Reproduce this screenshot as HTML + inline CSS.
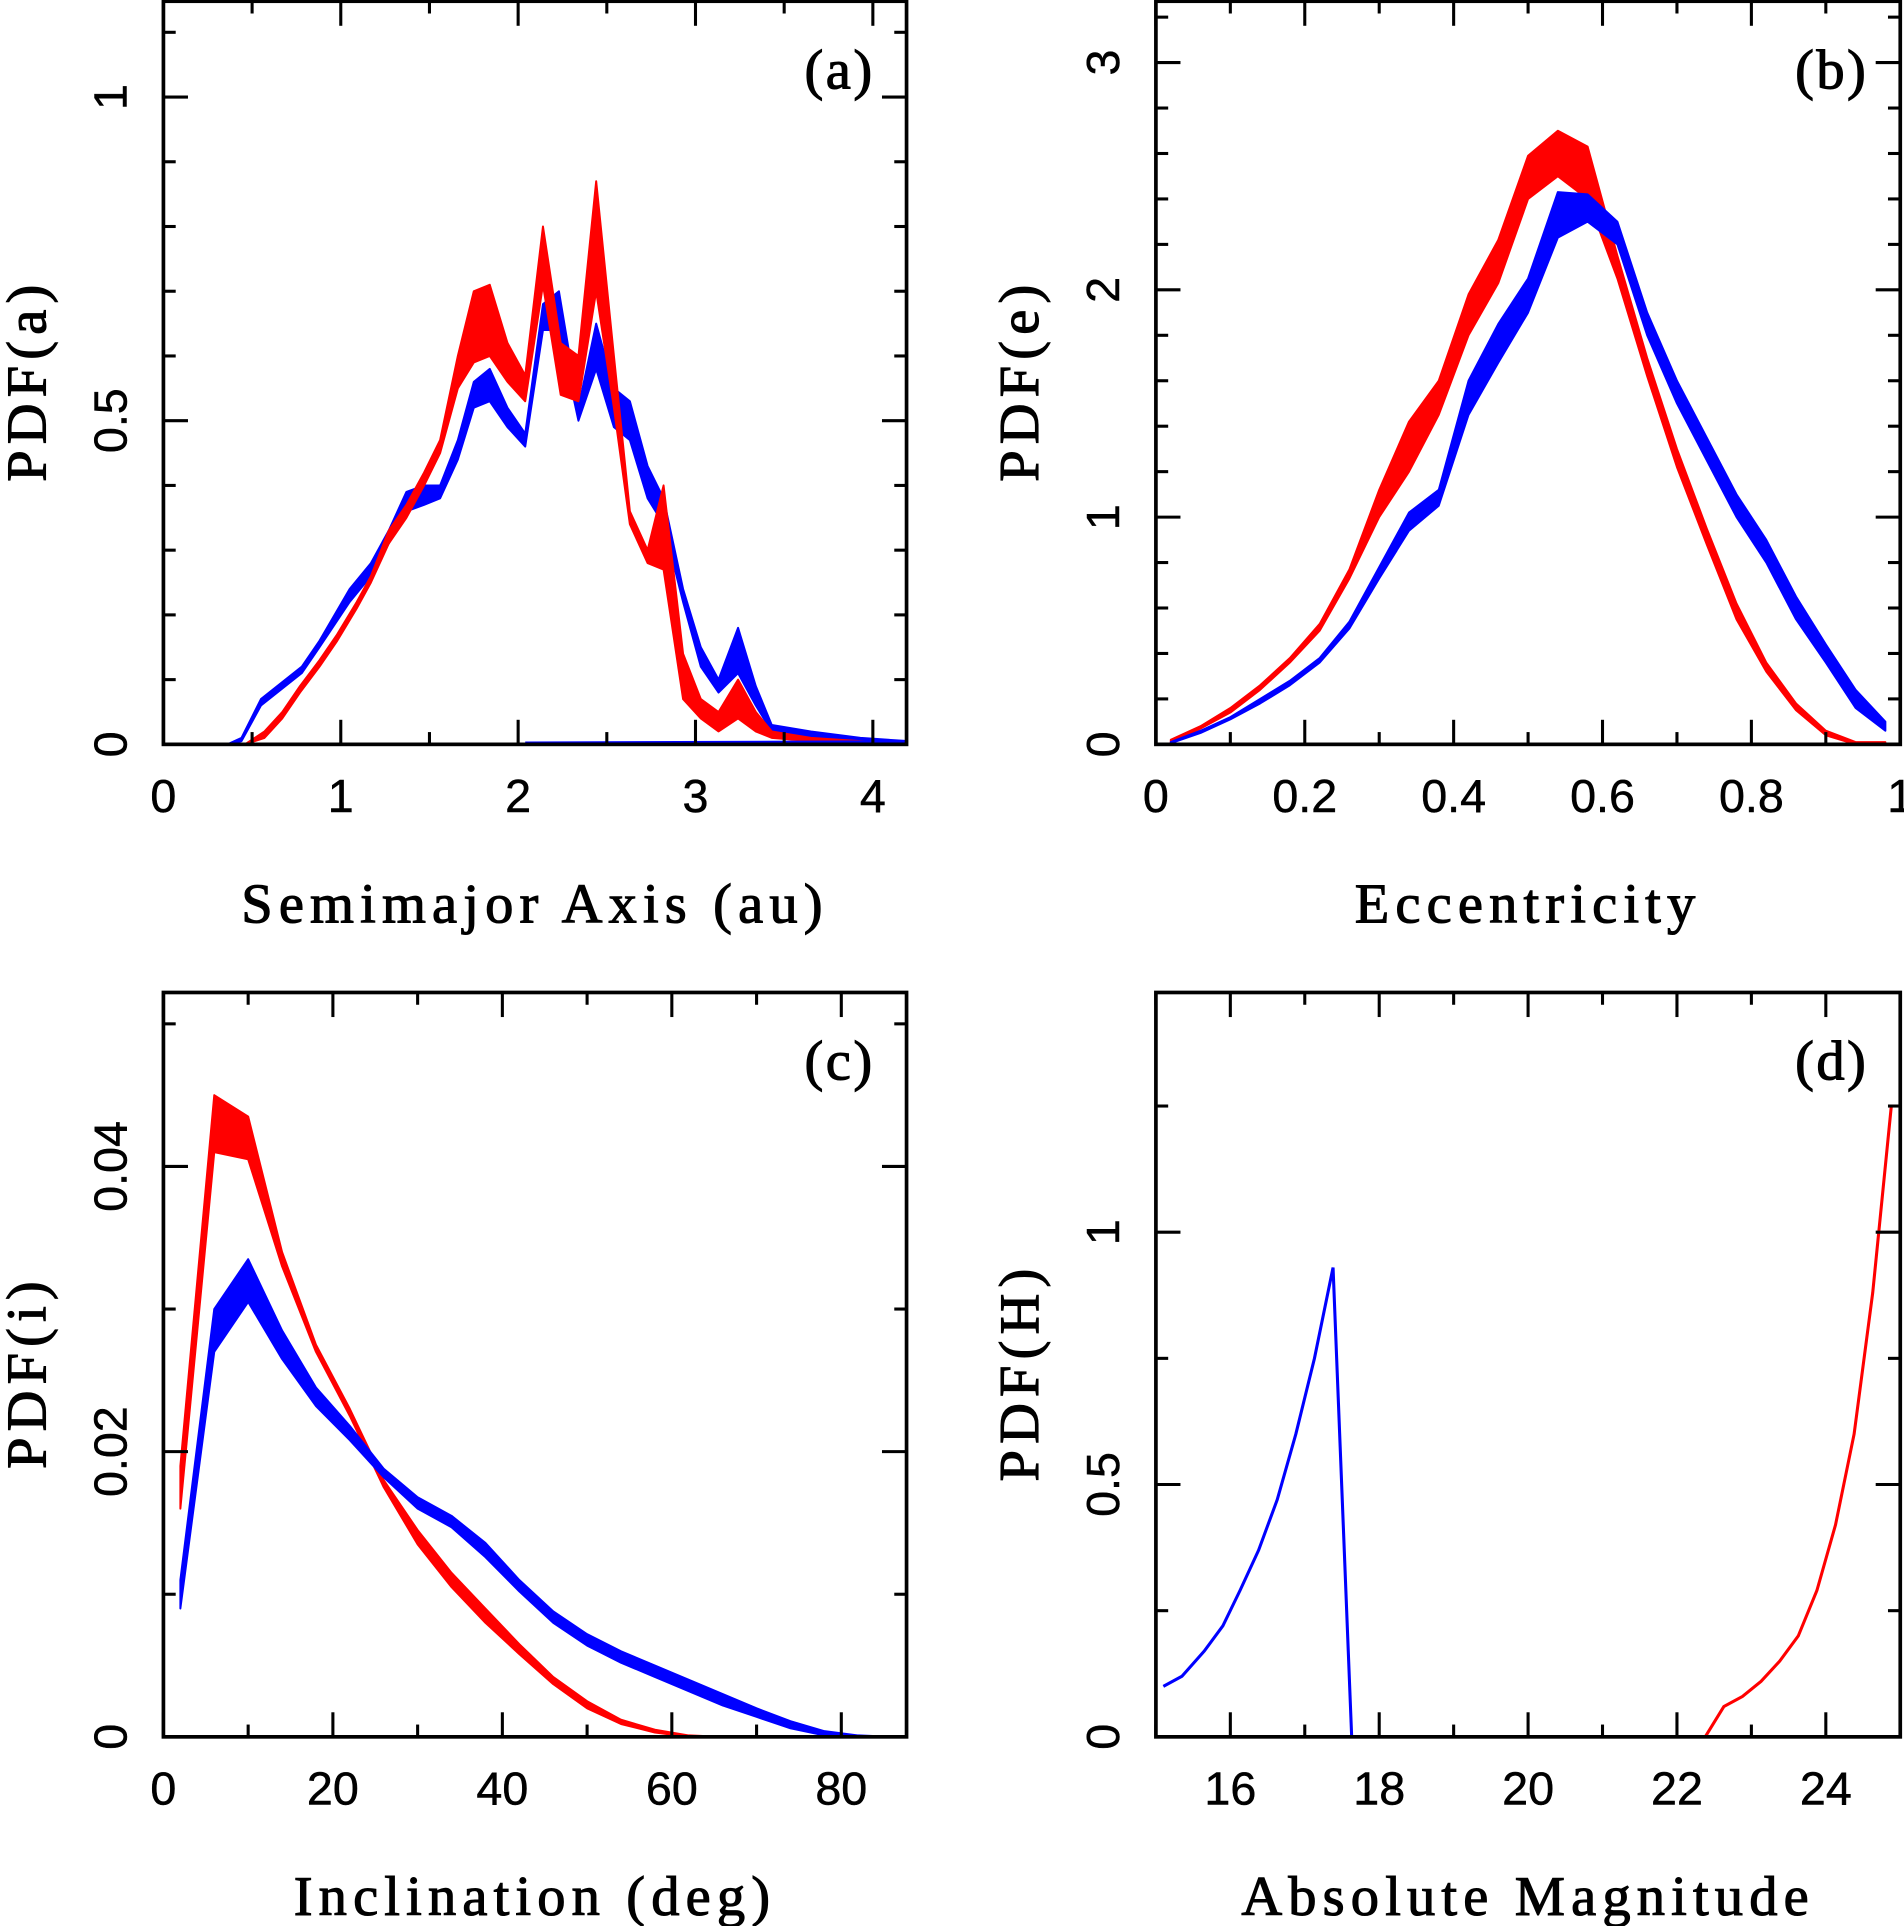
<!DOCTYPE html>
<html><head><meta charset="utf-8"><style>
html,body{margin:0;padding:0;background:#fff}
svg{display:block}
text{font-family:"Liberation Sans","DejaVu Sans",sans-serif;fill:#000}
.t{font-family:"Liberation Serif","DejaVu Serif",serif;letter-spacing:5px;stroke:#000;stroke-width:0.9}
.n{stroke:#000;stroke-width:0.4}
</style></head><body>
<svg id="chart" width="1904" height="1926" viewBox="0 0 1550 1568" xmlns="http://www.w3.org/2000/svg"></svg>
<script>
// Panel (a) semimajor axis
const aX=[0.36,0.44,0.55,0.78,0.88,1.05,1.17,1.27,1.37,1.47,1.56,1.66,1.75,1.84,1.94,2.04,2.14,2.23,2.34,2.44,2.54,2.63,2.73,2.82,2.93,3.03,3.13,3.24,3.34,3.43,3.65,3.93,4.2];
const aBlueHi=[0,0.01,0.07,0.12,0.16,0.24,0.28,0.33,0.39,0.40,0.40,0.47,0.56,0.58,0.52,0.48,0.68,0.70,0.52,0.65,0.55,0.53,0.43,0.38,0.24,0.15,0.10,0.18,0.09,0.03,0.02,0.01,0.005];
const aBlueLo=[0,0.005,0.06,0.11,0.15,0.22,0.26,0.31,0.36,0.37,0.38,0.44,0.52,0.53,0.49,0.46,0.64,0.64,0.50,0.58,0.49,0.47,0.38,0.34,0.22,0.12,0.08,0.11,0.06,0.02,0.012,0.006,0.002];
const aRX=[0.46,0.57,0.67,0.77,0.88,0.98,1.09,1.17,1.27,1.37,1.47,1.56,1.66,1.75,1.84,1.94,2.04,2.14,2.24,2.34,2.44,2.54,2.63,2.73,2.82,2.93,3.03,3.13,3.24,3.34,3.43,3.65,4.2];
const aRedHi=[0,0.02,0.05,0.09,0.13,0.17,0.22,0.26,0.33,0.37,0.42,0.47,0.60,0.70,0.71,0.62,0.57,0.80,0.62,0.60,0.87,0.60,0.36,0.30,0.40,0.14,0.07,0.05,0.10,0.05,0.02,0.01,0];
const aRedLo=[0,0.01,0.04,0.08,0.12,0.16,0.21,0.25,0.31,0.35,0.40,0.45,0.55,0.59,0.60,0.56,0.53,0.71,0.54,0.53,0.70,0.52,0.34,0.28,0.27,0.07,0.04,0.02,0.04,0.02,0.01,0.005,0];
// Panel (b) eccentricity
const eX=[0.02,0.06,0.10,0.14,0.18,0.22,0.26,0.30,0.34,0.38,0.42,0.46,0.50,0.54,0.58,0.62,0.66,0.70,0.74,0.78,0.82,0.86,0.90,0.94,0.98];
const eRedHi=[0.02,0.08,0.16,0.26,0.38,0.53,0.77,1.12,1.42,1.6,1.98,2.22,2.59,2.70,2.63,2.15,1.7,1.3,0.95,0.62,0.36,0.18,0.06,0.01,0.01];
const eRedLo=[0.01,0.07,0.14,0.24,0.36,0.50,0.73,1.0,1.2,1.45,1.8,2.03,2.4,2.5,2.4,2.05,1.62,1.22,0.88,0.55,0.32,0.15,0.04,0,0];
const eBlueHi=[0.01,0.06,0.12,0.2,0.28,0.38,0.54,0.78,1.02,1.12,1.6,1.85,2.05,2.43,2.42,2.3,1.9,1.6,1.35,1.1,0.9,0.65,0.44,0.24,0.1];
const eBlueLo=[0.005,0.05,0.11,0.18,0.26,0.36,0.51,0.73,0.94,1.05,1.45,1.68,1.9,2.23,2.3,2.2,1.8,1.5,1.25,1.0,0.8,0.55,0.36,0.16,0.06];
// Panel (c) inclination
const iX=[2,6,10,14,18,22,26,30,34,38,42,46,50,54,58,62,66,70,74,78,82,86];
const iRedHi=[0.019,0.045,0.0435,0.034,0.0275,0.023,0.018,0.0145,0.0115,0.009,0.0065,0.0042,0.0025,0.0012,0.0005,0.0001,0,0,0,0,0,0];
const iRedLo=[0.016,0.041,0.0405,0.033,0.027,0.0225,0.0175,0.0135,0.0105,0.008,0.0058,0.0037,0.002,0.0009,0.0003,0,0,0,0,0,0,0];
const iBlueHi=[0.011,0.030,0.0335,0.0285,0.0245,0.0218,0.0188,0.0168,0.0155,0.0136,0.011,0.0088,0.0072,0.006,0.005,0.004,0.003,0.002,0.0011,0.0004,0.0001,0];
const iBlueLo=[0.009,0.027,0.0305,0.0265,0.0232,0.0208,0.0182,0.016,0.0147,0.0126,0.0102,0.008,0.0064,0.0052,0.0042,0.0032,0.0022,0.0014,0.0006,0.0001,0,0];
// Panel (d) absolute magnitude
const hBlueX=[15.1,15.35,15.65,15.9,16.13,16.38,16.63,16.88,17.13,17.38,17.63];
const hBlueY=[0.1,0.12,0.17,0.22,0.29,0.37,0.47,0.6,0.75,0.93,0];
const hRedX=[22.38,22.63,22.88,23.13,23.38,23.63,23.88,24.13,24.38,24.63,24.88];
const hRedY=[0,0.06,0.08,0.11,0.15,0.2,0.29,0.42,0.6,0.88,1.25];

const svg=document.getElementById('chart');
const NS='http://www.w3.org/2000/svg';
function mk(tag,attrs,parent){const e=document.createElementNS(NS,tag);for(const k in attrs)e.setAttribute(k,attrs[k]);(parent||svg).appendChild(e);return e;}

function panel(p){
  const g=mk('g',{});
  
  
  const sx=v=>p.L+(v-p.x0)/(p.x1-p.x0)*(p.R-p.L);
  const sy=v=>p.B-(v-p.y0)/(p.y1-p.y0)*(p.B-p.T);
  const clipId='clip'+p.id;
  const cp=mk('clipPath',{id:clipId},g);mk('rect',{x:p.L,y:p.T,width:p.R-p.L,height:p.B-p.T},cp);
  const d=mk('g',{'clip-path':'url(#'+clipId+')'},g);
  
  
  (p.bands||[]).forEach(b=>{
    let pts=b.x.map((x,i)=>sx(x)+','+sy(b.hi[i]));
    for(let i=b.x.length-1;i>=0;i--)pts.push(sx(b.x[i])+','+sy(b.lo[i]));
    const e=mk('polygon',{points:pts.join(' '),fill:b.c,stroke:b.c,'stroke-width':1.6,'stroke-linejoin':'round'},d);
    
    
  });
  (p.lines||[]).forEach(l=>{
    const e=mk('polyline',{points:l.x.map((x,i)=>sx(x)+','+sy(l.y[i])).join(' '),fill:'none',stroke:l.c,'stroke-width':2.5},d);
    
    
  });
  const fr=mk('rect',{x:p.L,y:p.T,width:p.R-p.L,height:p.B-p.T,fill:'none',stroke:'#000','stroke-width':3},g);
  
  
  const eps=1e-9;
  for(let v=p.x0;v<=p.x1+eps;v+=p.xm){
    const vv=Math.round(v/p.xm)*p.xm; if(vv<p.x0-eps)continue;
    const maj=Math.abs(vv/p.xM-Math.round(vv/p.xM))<1e-6;
    const len=maj?20:10,x=sx(vv);
    mk('line',{x1:x,y1:p.B,x2:x,y2:p.B-len,stroke:'#000','stroke-width':2.5},g);
    mk('line',{x1:x,y1:p.T,x2:x,y2:p.T+len,stroke:'#000','stroke-width':2.5},g);
  }
  for(let v=p.y0;v<=p.y1+eps;v+=p.ym){
    const vv=Math.round(v/p.ym)*p.ym;
    const maj=Math.abs(vv/p.yM-Math.round(vv/p.yM))<1e-6;
    const len=maj?20:10,y=sy(vv);
    mk('line',{x1:p.L,y1:y,x2:p.L+len,y2:y,stroke:'#000','stroke-width':2.5},g);
    mk('line',{x1:p.R,y1:y,x2:p.R-len,y2:y,stroke:'#000','stroke-width':2.5},g);
  }
  p.xLabels.forEach((v,i)=>{
    const t=mk('text',{x:sx(v),y:p.B+55,'font-size':38,'text-anchor':'middle',class:'n'},g);
    t.textContent=p.xLabelText[i];
    
    
  });
  p.yLabels.forEach((v,i)=>{
    const y=sy(v);
    const t=mk('text',{x:0,y:0,'font-size':38,'text-anchor':'middle',class:'n',transform:'translate('+(p.L-30)+','+y+') rotate(-90)'},g);
    t.textContent=p.yLabelText[i];
    
    
  });
  const xt=mk('text',{x:(p.L+p.R)/2,y:p.B+145,'font-size':46,'text-anchor':'middle',class:'t'},g);
  xt.textContent=p.xTitle;
  
  
  const yt=mk('text',{x:0,y:0,'font-size':46,'text-anchor':'middle',class:'t',transform:'translate('+(p.L-96)+','+((p.T+p.B)/2+6)+') rotate(-90)'},g);
  yt.textContent=p.yTitle;
  
  
  const lb=mk('text',{x:p.R-26,y:p.T+71,'font-size':46,'text-anchor':'end',class:'t',style:'letter-spacing:2px'},g);
  lb.textContent=p.tag;
  
  
}

panel({id:'a',L:133,R:738,T:1,B:606,x0:0,x1:4.19,y0:0,y1:1.148,xm:0.5,xM:1,ym:0.1,yM:0.5,
  xLabels:[0,1,2,3,4],xLabelText:['0','1','2','3','4'],yLabels:[0,0.5,1],yLabelText:['0','0.5','1'],
  xTitle:'Semimajor Axis (au)',yTitle:'PDF(a)',tag:'(a)',
  bands:[{x:aX,hi:aBlueHi,lo:aBlueLo,c:'#0000ff',name:'blue-band-a'},{x:aRX,hi:aRedHi,lo:aRedLo,c:'#ff0000',name:'red-band-a'}],
  lines:[{x:[2.04,4.2],y:[0.002,0.004],c:'#0000ff',name:'blue-baseline-a'}]});
panel({id:'b',L:941,R:1547,T:1,B:606,x0:0,x1:1,y0:0,y1:3.27,xm:0.1,xM:0.2,ym:0.2,yM:1,
  xLabels:[0,0.2,0.4,0.6,0.8,1],xLabelText:['0','0.2','0.4','0.6','0.8','1'],yLabels:[0,1,2,3],yLabelText:['0','1','2','3'],
  xTitle:'Eccentricity',yTitle:'PDF(e)',tag:'(b)',
  bands:[{x:eX,hi:eRedHi,lo:eRedLo,c:'#ff0000',name:'red-band-b'},{x:eX,hi:eBlueHi,lo:eBlueLo,c:'#0000ff',name:'blue-band-b'}]});
panel({id:'c',L:133,R:738,T:808,B:1414,x0:0,x1:87.7,y0:0,y1:0.0522,xm:10,xM:20,ym:0.01,yM:0.02,
  xLabels:[0,20,40,60,80],xLabelText:['0','20','40','60','80'],yLabels:[0,0.02,0.04],yLabelText:['0','0.02','0.04'],
  xTitle:'Inclination (deg)',yTitle:'PDF(i)',tag:'(c)',
  bands:[{x:iX,hi:iRedHi,lo:iRedLo,c:'#ff0000',name:'red-band-c'},{x:iX,hi:iBlueHi,lo:iBlueLo,c:'#0000ff',name:'blue-band-c'}]});
panel({id:'d',L:941,R:1547,T:808,B:1414,x0:15,x1:25,y0:0,y1:1.475,xm:1,xM:2,ym:0.25,yM:0.5,
  xLabels:[16,18,20,22,24],xLabelText:['16','18','20','22','24'],yLabels:[0,0.5,1],yLabelText:['0','0.5','1'],
  xTitle:'Absolute Magnitude',yTitle:'PDF(H)',tag:'(d)',
  lines:[{x:hBlueX,y:hBlueY,c:'#0000ff',name:'blue-line-d'},{x:hRedX,y:hRedY,c:'#ff0000',name:'red-line-d'}]});
</script>
</body></html>
